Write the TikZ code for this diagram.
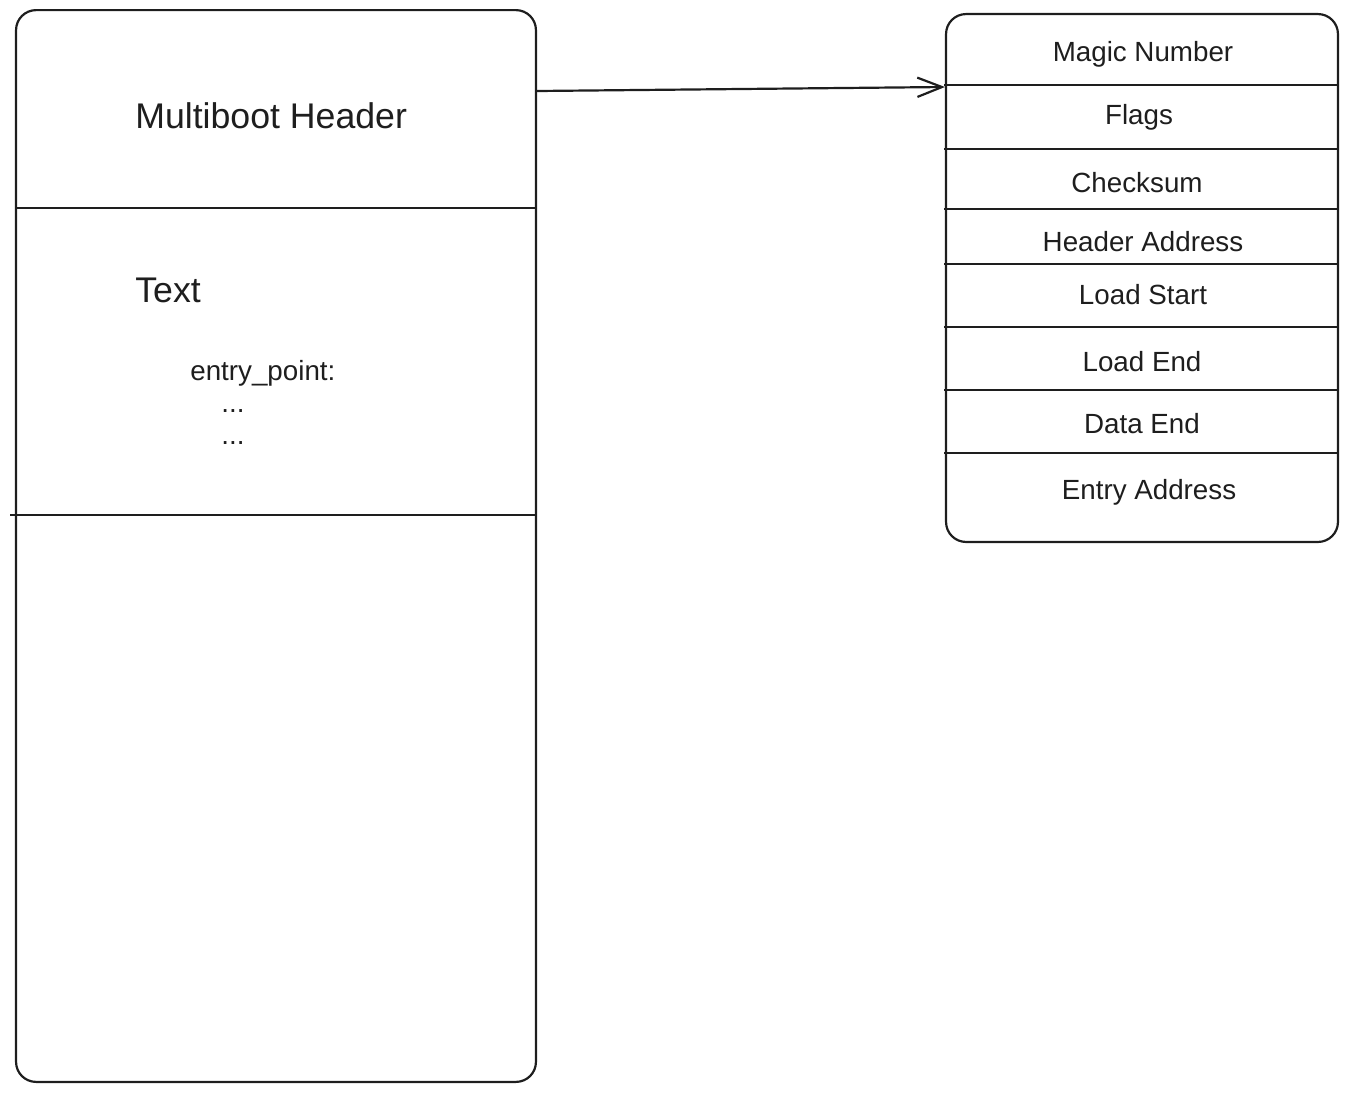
\documentclass[tikz,border=0pt]{standalone}
\usepackage{fontspec}
\setmainfont{Liberation Sans}
\usetikzlibrary{arrows.meta, positioning}
\definecolor{ink}{HTML}{1E1E1E}

\begin{document}
\begin{tikzpicture}
    [
        x=0.02cm, y=-0.02cm,
        every node/.style = {
            text=ink
            },
        block/.style = {
            draw=ink, line width=1.25pt, rounded corners=0.4cm, inner sep=0pt
            },
        divider/.style = {
            draw=ink, line width=1.25pt
            },
        bigtext/.style = {
            font=\fontsize{20.3}{24}\selectfont, anchor=west, inner sep=0pt
            },
        field/.style = {
            font=\fontsize{15.8}{19}\selectfont, inner sep=0pt
            },
    ]
    \useasboundingbox (0,0) rectangle (1349,1093);
    %boxes
    \node[block, minimum width=10.4cm, minimum height=21.44cm] (image) at (276,546) {};
    \node[block, minimum width=7.84cm, minimum height=10.56cm] (header) at (1142,278) {};
    %sections of the image
    \draw[divider] (16,208) -- (536,208);
    \draw[divider] (10,515) -- (536,515);
    \node[bigtext] (mbh) at (135,116) {Multiboot Header};
    \node[bigtext] (text) at (135,290) {Text};
    \node[field, anchor=base west] (entry) at (190,380) {entry\_point:};
    \node[field, anchor=base west] (dots1) at (221,412) {...};
    \node[field, anchor=base west] (dots2) at (221,444) {...};
    %fields of the header
    \foreach \y in {85,149,209,264,327,390,453}
        \draw[divider] (944,\y) -- (1338,\y);
    \node[field] (magic) at (1143,54) {Magic Number};
    \node[field] (flags) at (1139,117) {Flags};
    \node[field] (checksum) at (1137,183) {Checksum};
    \node[field] (haddr) at (1143,242) {Header Address};
    \node[field] (lstart) at (1143,295) {Load Start};
    \node[field] (lend) at (1142,362) {Load End};
    \node[field] (dend) at (1142,424) {Data End};
    \node[field] (eaddr) at (1149,492) {Entry Address};
    %connecting nodes
    \coordinate (from) at (image.east |- 0,91);
    \coordinate (to) at (header.west |- 0,87);
    \draw[ink, line width=1.25pt, -{Straight Barb[length=14pt, width=11pt, line width=1.25pt]}] (from) -- (to);
\end{tikzpicture}
\end{document}
